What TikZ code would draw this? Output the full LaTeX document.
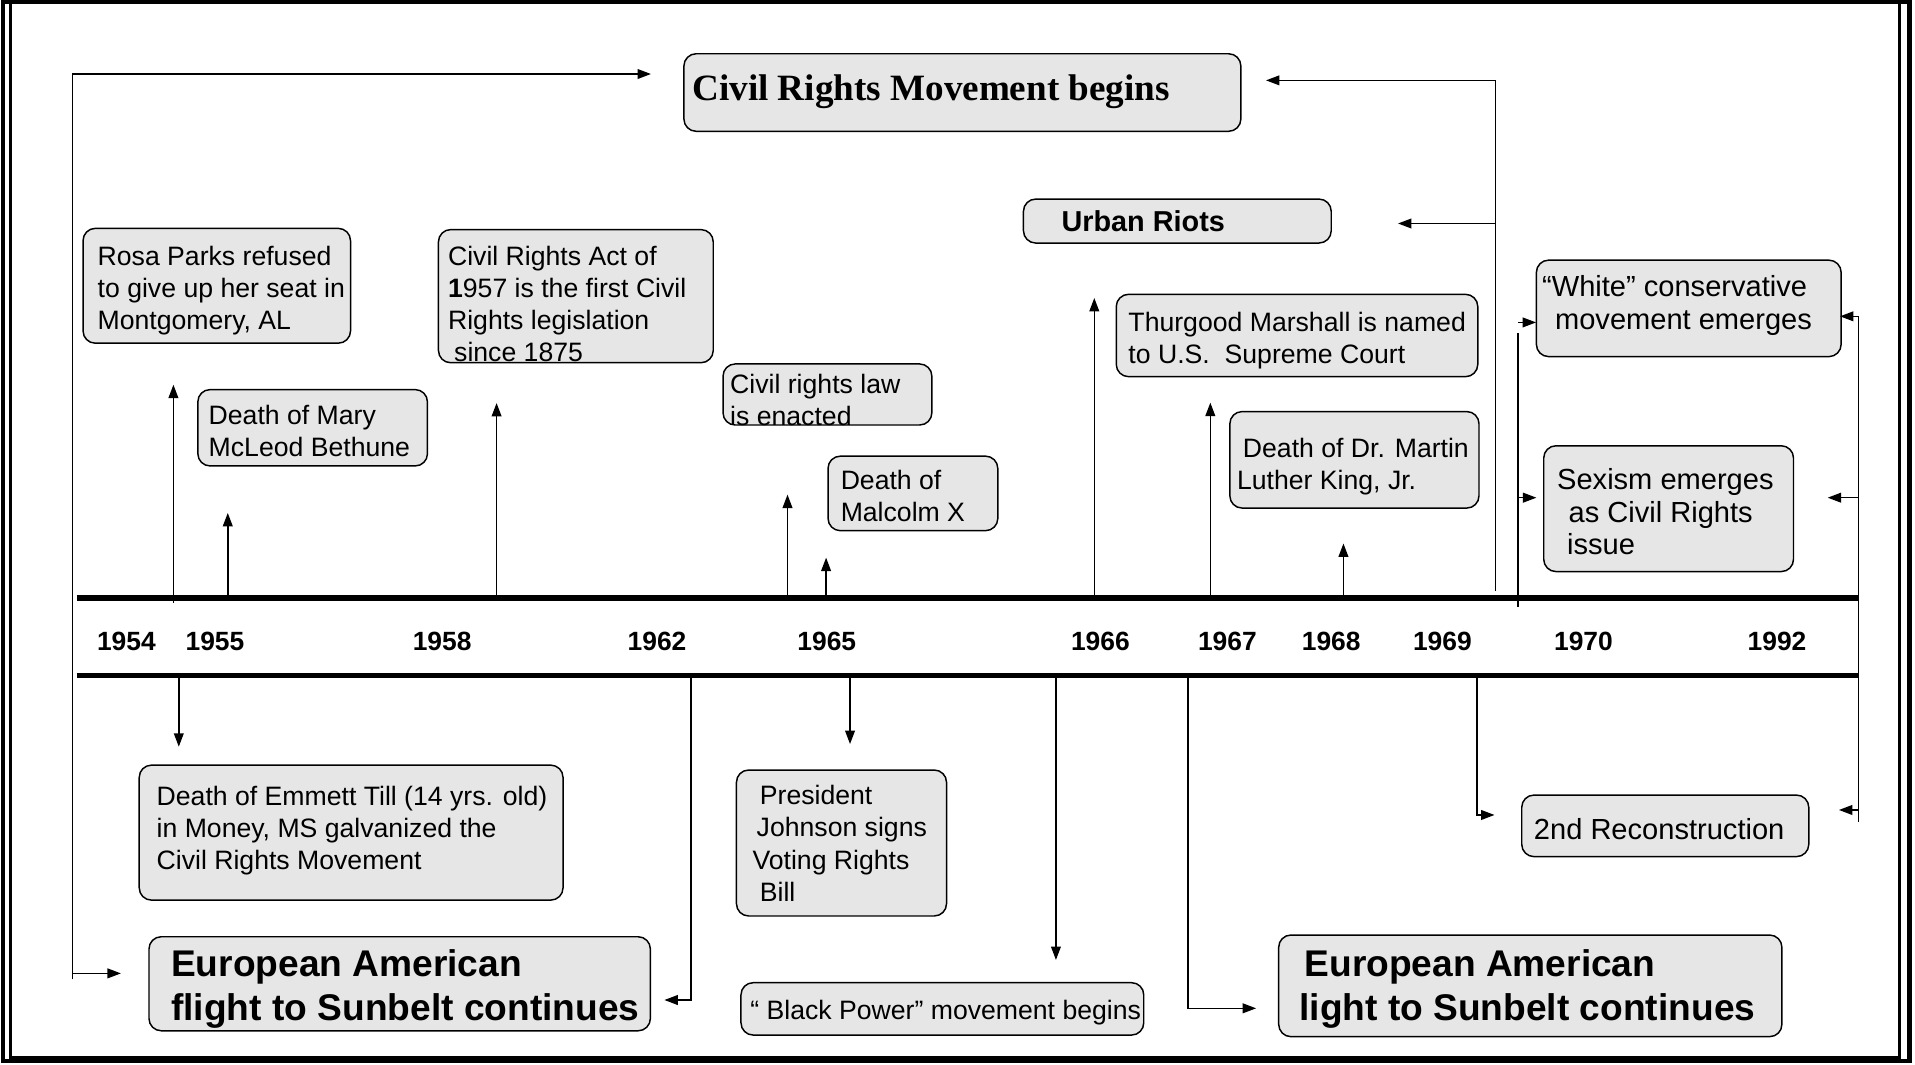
\documentclass[tikz,border=0pt]{standalone}
\usepackage{fontspec}
\setmainfont{Liberation Sans}
\newfontfamily\titlefont{Liberation Serif}
\usetikzlibrary{arrows.meta,fit}
\definecolor{boxgray}{RGB}{230,230,230}

\tikzset{
  evbox/.style={draw, line width=0.6pt, fill=boxgray, rounded corners=5pt, inner sep=0pt},
  evtxt/.style={anchor=base west, align=left, inner sep=0pt, font=\fontsize{10.9}{13.2}\selectfont},
  righttxt/.style={evtxt, font=\fontsize{11.9}{13.4}\selectfont},
  bigtxt/.style={evtxt, font=\fontsize{15.2}{18}\selectfont\bfseries},
  yearlbl/.style={font=\fontsize{10.8}{13}\selectfont\bfseries, inner sep=0pt},
  timeline/.style={line width=2.25pt},
  conn/.style={line width=0.6pt},
  evarrow/.style={conn, -{Triangle[length=5.5pt,width=4pt]}},
}

\begin{document}
\begin{tikzpicture}[x=0.5pt, y=-0.5pt]
    \useasboundingbox (0,0) rectangle (1568,872);
    \fill[white] (0,0) rectangle (1568,872);

    % frame
    \draw[line width=1.8pt] (2.5,1.5) rectangle (1563.5,868.5);
    \draw[line width=1.2pt] (8.7,1.5) rectangle (1555,866);

    % timeline
    \coordinate (topW) at (62.7,489.5);
    \coordinate (topE) at (1522,489.5);
    \coordinate (botW) at (62.7,553);
    \coordinate (botE) at (1522,553);
    \draw[timeline] (topW) -- (topE);
    \draw[timeline] (botW) -- (botE);

    \foreach \yr/\x in {1954/103.5, 1955/176, 1958/362, 1962/538, 1965/677, 1966/901,
                        1967/1005, 1968/1090, 1969/1181, 1970/1296.5, 1992/1455}
        \node[yearlbl] (y\yr) at (\x,525.4) {\yr};

    % boxes (text nodes sit on the baseline of their last line)
    \node[evbox, fit={(560,44) (1016,107.5)}] (cstart) {};
    \node[anchor=base west, inner sep=0pt, font=\titlefont\fontsize{15.2}{18}\selectfont\bfseries] (cstartT) at (566.5,82) {Civil Rights Movement begins};

    \node[evbox, fit={(838,163) (1090,199)}] (riots) {};
    \node[evtxt, font=\fontsize{11.8}{13.4}\selectfont\bfseries] (riotsT) at (868.8,189.7) {Urban Riots};

    \node[evbox, fit={(68,187) (287,281)}] (rosa) {};
    \node[evtxt] (rosaT) at (79.6,269.8) {Rosa Parks refused\\to give up her seat in\\Montgomery, AL};

    \node[evbox, fit={(359,188) (584,297)}] (act) {};
    \node[evtxt] (actT) at (366.5,296.2) {Civil Rights Act of\\\textbf{1}957 is the first Civil\\Rights legislation\\\hspace{2.5pt}since 1875};

    \node[evbox, fit={(162,319) (350,381.5)}] (bethune) {};
    \node[evtxt] (bethuneT) at (170.5,374) {Death of Mary\\McLeod Bethune};

    \node[evbox, fit={(592,298) (763,348)}] (law) {};
    \node[evtxt] (lawT) at (597.5,348.4) {Civil rights law\\is enacted};

    \node[evbox, fit={(678,373.5) (817,434.5)}] (malcolm) {};
    \node[evtxt] (malcolmT) at (688,427) {Death of\\Malcolm X};

    \node[evbox, fit={(914,241) (1210,308.4)}] (thurgood) {};
    \node[evtxt] (thurgoodT) at (923.6,297.5) {Thurgood Marshall is named\\to U.S.\ \ Supreme Court};

    \node[evbox, fit={(1007,337) (1211,416)}] (mlk) {};
    \node[evtxt] (mlkT) at (1012.5,400.7) {\hspace{2.4pt}Death of Dr. Martin\\Luther King, Jr.};

    \node[evbox, fit={(1258,213) (1507.5,292)}] (white) {};
    \node[righttxt] (whiteT) at (1262.3,269.5) {“White” conservative\\\hspace{5.3pt}movement emerges};

    \node[evbox, fit={(1264,365) (1468.5,468)}] (sexism) {};
    \node[righttxt] (sexismT) at (1274.6,454.4) {Sexism emerges\\\hspace{4.7pt}as Civil Rights\\\hspace{4.1pt}issue};

    \node[evbox, fit={(1246,651) (1481,701.4)}] (recon) {};
    \node[righttxt] (reconT) at (1255.6,687.3) {2nd Reconstruction};

    \node[evbox, fit={(114,626.5) (461,737)}] (till) {};
    \node[evtxt] (tillT) at (127.9,712.3) {Death of Emmett Till (14 yrs. old)\\in Money, MS galvanized the\\Civil Rights Movement};

    \node[evbox, fit={(603,630.5) (775,750)}] (johnson) {};
    \node[evtxt] (johnsonT) at (615.8,738) {\hspace{3pt}President\\\hspace{1.7pt}Johnson signs\\Voting Rights\\\hspace{3pt}Bill};

    \node[evbox, fit={(122,767) (532.5,844)}] (eurL) {};
    \node[bigtxt] (eurLT) at (139.8,835.2) {European American\\flight to Sunbelt continues};

    \node[evbox, fit={(606.7,804.6) (936.5,847.5)}] (bpower) {};
    \node[evtxt] (bpowerT) at (614,835) {“ Black Power” movement begins};

    \node[evbox, fit={(1047,765.6) (1459,848.8)}] (eurR) {};
    \node[bigtxt] (eurRT) at (1063.6,835.2) {\hspace{2.1pt}European American\\light to Sunbelt continues};

    % arrows up from the timeline
    \foreach \n/\x/\ya/\yb in {a/142/493.5/315, b/186.5/489.5/420, c/406.6/492/330,
                               d/644.8/489.5/405, e/676.4/489.5/456.6, f/896/492/244,
                               g/991/489.5/329.7, h/1100/489.5/445}
    {
        \coordinate (up\n) at (\x,\ya);
        \coordinate (upTip\n) at (\x,\yb);
        \draw[evarrow] (up\n) -- (upTip\n);
    }

    % arrows down from the timeline
    \foreach \n/\x/\yb in {a/146.4/611.4, b/696/609.2, c/864.6/786}
    {
        \coordinate (dn\n) at (\x,553);
        \coordinate (dnTip\n) at (\x,\yb);
        \draw[evarrow] (dn\n) -- (dnTip\n);
    }

    % left bracket
    \coordinate (lTop) at (59.5,60.6);
    \coordinate (lFoot) at (59.5,802);
    \coordinate (lTopTip) at (533,60.6);
    \coordinate (lFootA) at (59.5,797);
    \coordinate (lFootTip) at (99,797);
    \draw[evarrow] (lFoot) -- (lTop) -- (lTopTip);
    \draw[evarrow] (lFootA) -- (lFootTip);

    % elbows below the timeline
    \coordinate (m62) at (565.6,553);
    \coordinate (m62Tip) at (544,818.8);
    \draw[evarrow] (m62) |- (m62Tip);
    \coordinate (m67) at (972.6,553);
    \coordinate (m67Tip) at (1028.5,825.6);
    \draw[evarrow] (m67) |- (m67Tip);
    \coordinate (m69) at (1209.4,553);
    \coordinate (m69Tip) at (1223.7,667.3);
    \draw[evarrow] (m69) |- (m69Tip);

    % riser to the top boxes
    \coordinate (rTop) at (1224.5,65.8);
    \coordinate (rFoot) at (1224.5,484);
    \coordinate (rMid) at (1224.5,183);
    \coordinate (rTopTip) at (1036.6,65.8);
    \coordinate (rMidTip) at (1144.7,183);
    \draw[conn] (rFoot) -- (rTop);
    \draw[evarrow] (rTop) -- (rTopTip);
    \draw[evarrow] (rMid) -- (rMidTip);

    % riser to the 1970 boxes
    \coordinate (sTop) at (1243,272.6);
    \coordinate (sFoot) at (1243,496.7);
    \coordinate (sA) at (1243,264);
    \coordinate (sATip) at (1257.7,264);
    \coordinate (sB) at (1243,407.5);
    \coordinate (sBTip) at (1258,407.5);
    \draw[conn] (sFoot) -- (sTop);
    \draw[evarrow] (sA) -- (sATip);
    \draw[evarrow] (sB) -- (sBTip);

    % right bracket from 1992
    \coordinate (eTop) at (1521.5,259);
    \coordinate (eFoot) at (1521.5,672.8);
    \coordinate (eTopTip) at (1506.6,259);
    \coordinate (eMid) at (1521.5,407.5);
    \coordinate (eMidTip) at (1496.5,407.5);
    \coordinate (eLow) at (1521.5,663.2);
    \coordinate (eLowTip) at (1505.7,663.2);
    \draw[conn] (eFoot) -- (eTop);
    \draw[evarrow] (eTop) -- (eTopTip);
    \draw[evarrow] (eMid) -- (eMidTip);
    \draw[evarrow] (eLow) -- (eLowTip);
\end{tikzpicture}
\end{document}
